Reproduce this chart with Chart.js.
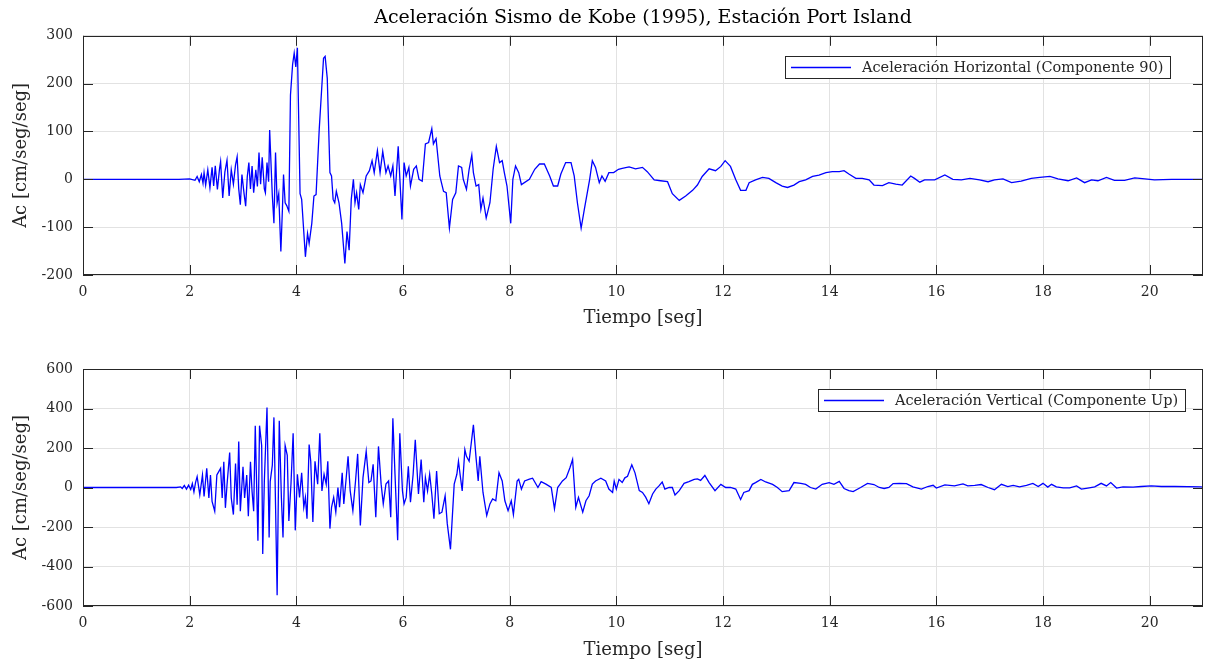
<!DOCTYPE html>
<html>
<head>
<meta charset="utf-8">
<script src="https://cdn.jsdelivr.net/npm/chart.js@4.4.1/dist/chart.umd.min.js"></script>
<style>
html, body { margin: 0; padding: 0; background: #fff; }
canvas { position: absolute; left: 0; }
#c1 { top: 0; }
#c2 { top: 332px; }
</style>
</head>
<body>
<canvas id="c1" width="1207" height="332"></canvas>
<canvas id="c2" width="1207" height="331"></canvas>
<script>
// tick labels
var xTicks = [0, 2, 4, 6, 8, 10, 12, 14, 16, 18, 20];
var yTicksH = [-200, -100, 0, 100, 200, 300];
var yTicksV = [-600, -400, -200, 0, 200, 400, 600];

// horizontal component (Componente 90), time [s] / accel [cm/s2]
var tH = [
  0, 1, 1.8, 2.0, 2.1, 2.14, 2.18, 2.22, 2.25, 2.27,
  2.30, 2.34, 2.38, 2.42, 2.45, 2.48, 2.52, 2.56, 2.58, 2.62,
  2.66, 2.70, 2.74, 2.78, 2.82, 2.86, 2.89, 2.92, 2.95, 2.98,
  3.02, 3.05, 3.08, 3.11, 3.14, 3.17, 3.20, 3.24, 3.27, 3.30,
  3.33, 3.36, 3.40, 3.42, 3.45, 3.48, 3.50, 3.53, 3.55, 3.58,
  3.61, 3.64, 3.67, 3.71, 3.74, 3.76, 3.79, 3.82, 3.86, 3.89,
  3.93, 3.96, 3.99, 4.02, 4.07, 4.10, 4.17, 4.21, 4.24, 4.29,
  4.33, 4.37, 4.43, 4.51, 4.54, 4.58, 4.63, 4.66, 4.69, 4.72,
  4.75, 4.80, 4.85, 4.91, 4.95, 4.99, 5.03, 5.07, 5.10, 5.13,
  5.17, 5.20, 5.25, 5.31, 5.37, 5.42, 5.46, 5.52, 5.57, 5.62,
  5.68, 5.72, 5.77, 5.81, 5.85, 5.91, 5.98, 6.02, 6.06, 6.11,
  6.14, 6.20, 6.25, 6.30, 6.36, 6.42, 6.48, 6.54, 6.57, 6.62,
  6.69, 6.76, 6.81, 6.87, 6.93, 6.99, 7.04, 7.10, 7.13, 7.19,
  7.24, 7.29, 7.32, 7.37, 7.42, 7.46, 7.50, 7.56, 7.63, 7.69,
  7.75, 7.81, 7.86, 7.90, 7.95, 8.02, 8.06, 8.11, 8.17, 8.22,
  8.37, 8.47, 8.56, 8.65, 8.75, 8.82, 8.90, 8.96, 9.05, 9.15,
  9.21, 9.27, 9.34, 9.40, 9.50, 9.55, 9.61, 9.68, 9.73, 9.79,
  9.86, 9.95, 10.04, 10.11, 10.24, 10.36, 10.49, 10.58, 10.71, 10.83,
  10.96, 11.05, 11.18, 11.30, 11.43, 11.52, 11.61, 11.74, 11.86, 11.96,
  12.04, 12.14, 12.24, 12.33, 12.43, 12.49, 12.61, 12.74, 12.86, 12.99,
  13.11, 13.21, 13.33, 13.43, 13.55, 13.68, 13.80, 13.93, 14.05, 14.18,
  14.27, 14.36, 14.49, 14.61, 14.74, 14.83, 14.99, 15.11, 15.24, 15.36,
  15.52, 15.59, 15.69, 15.78, 15.97, 16.16, 16.31, 16.47, 16.63, 16.81,
  16.97, 17.09, 17.25, 17.41, 17.59, 17.78, 17.94, 18.13, 18.28, 18.47,
  18.63, 18.78, 18.91, 19.03, 19.19, 19.34, 19.53, 19.72, 19.91, 20.09,
  20.41, 21
];
var aH = [
  0, 0, 0, 1, -2, 6, -5, 10, -8, 14,
  -12, 20, -18, 25, -14, 28, -21, 22, 37, -39,
  15, 40, -35, 20, -10, 30, 47, -20, -53, 10,
  -30, -56, 5, 35, -20, 28, -28, 20, -15, 56,
  -10, 46, -20, -28, 35, -5, 103, 20, -35, -92,
  56, -49, -30, -151, -60, 10, -49, -55, -67, 176,
  240, 264, 235, 275, -30, -42, -162, -113, -134, -92,
  -35, -32, 106, 253, 257, 211, 14, 7, -42, -49,
  -25, -49, -92, -176, -109, -148, -42, 0, -49, -28,
  -63, -11, -28, 7, 18, 39, 14, 60, 14, 58,
  14, 28, 7, 28, -35, 69, -84, 35, 7, 25,
  -14, 21, 28, 0, -4, 74, 77, 106, 74, 85,
  7, -25, -28, -102, -42, -28, 28, 25, 0, -21,
  21, 51, 14, -14, -11, -63, -39, -81, -49, 21,
  69, 35, 39, 14, -14, -92, 0, 28, 14, -11,
  0, 21, 32, 32, 7, -14, -14, 11, 35, 35,
  7, -49, -102, -63, 0, 39, 25, -7, 7, -4,
  14, 14, 21, 23, 26, 22, 25, 16, -1, -3,
  -5, -30, -44, -35, -23, -12, 6, 22, 18, 27,
  39, 27, -1, -23, -23, -7, -1, 4, 2, -7,
  -14, -17, -12, -5, -1, 6, 9, 14, 16, 16,
  18, 11, 2, 2, -1, -12, -13, -7, -10, -12,
  7, 2, -6, -1, -1, 9, 0, -1, 2, -1,
  -5, -1, 1, -7, -4, 2, 4, 6, 1, -3,
  3, -7, -1, -3, 4, -2, -2, 3, 1, -1,
  0, 0
];

// vertical component (Componente Up)
var tV = [
  0, 1, 1.75, 1.83, 1.86, 1.90, 1.94, 1.98, 2.02, 2.05,
  2.08, 2.11, 2.14, 2.19, 2.24, 2.27, 2.32, 2.36, 2.39, 2.42,
  2.47, 2.51, 2.58, 2.61, 2.64, 2.67, 2.70, 2.75, 2.78, 2.82,
  2.86, 2.89, 2.92, 2.95, 3.00, 3.03, 3.07, 3.10, 3.14, 3.17,
  3.20, 3.23, 3.28, 3.31, 3.35, 3.37, 3.40, 3.45, 3.49, 3.51,
  3.55, 3.58, 3.61, 3.64, 3.68, 3.72, 3.75, 3.79, 3.83, 3.86,
  3.90, 3.94, 3.98, 4.02, 4.06, 4.10, 4.14, 4.17, 4.20, 4.24,
  4.27, 4.31, 4.35, 4.40, 4.44, 4.48, 4.52, 4.56, 4.59, 4.63,
  4.66, 4.70, 4.74, 4.78, 4.81, 4.86, 4.89, 4.93, 4.97, 5.01,
  5.06, 5.11, 5.15, 5.20, 5.25, 5.31, 5.36, 5.40, 5.44, 5.49,
  5.54, 5.59, 5.63, 5.68, 5.73, 5.77, 5.81, 5.85, 5.90, 5.94,
  5.99, 6.02, 6.06, 6.10, 6.14, 6.19, 6.23, 6.29, 6.34, 6.39,
  6.42, 6.46, 6.50, 6.54, 6.58, 6.63, 6.68, 6.73, 6.79, 6.83,
  6.89, 6.96, 7.01, 7.04, 7.07, 7.11, 7.16, 7.19, 7.24, 7.32,
  7.37, 7.41, 7.44, 7.50, 7.57, 7.63, 7.68, 7.74, 7.80, 7.86,
  7.91, 7.97, 8.03, 8.07, 8.14, 8.17, 8.22, 8.28, 8.37, 8.43,
  8.53, 8.59, 8.68, 8.78, 8.84, 8.90, 8.99, 9.06, 9.13, 9.18,
  9.24, 9.29, 9.37, 9.43, 9.49, 9.55, 9.61, 9.71, 9.80, 9.86,
  9.93, 9.96, 10.00, 10.05, 10.11, 10.16, 10.21, 10.29, 10.35, 10.43,
  10.49, 10.55, 10.61, 10.68, 10.74, 10.80, 10.86, 10.91, 10.99, 11.05,
  11.10, 11.18, 11.27, 11.36, 11.46, 11.52, 11.58, 11.66, 11.74, 11.85,
  11.96, 12.05, 12.14, 12.24, 12.33, 12.39, 12.49, 12.55, 12.61, 12.71,
  12.80, 12.93, 13.02, 13.11, 13.24, 13.33, 13.46, 13.55, 13.64, 13.74,
  13.86, 13.99, 14.08, 14.18, 14.27, 14.36, 14.44, 14.58, 14.71, 14.83,
  14.93, 15.02, 15.11, 15.19, 15.31, 15.44, 15.56, 15.72, 15.84, 15.94,
  16.00, 16.16, 16.34, 16.50, 16.59, 16.72, 16.84, 16.97, 17.09, 17.22,
  17.34, 17.44, 17.56, 17.69, 17.81, 17.91, 18.00, 18.09, 18.16, 18.25,
  18.38, 18.50, 18.63, 18.72, 18.84, 18.97, 19.09, 19.19, 19.27, 19.38,
  19.50, 19.69, 19.84, 20.03, 20.22, 20.47, 20.96, 21
];
var aV = [
  0, 0, 0, 3, -5, 10, -8, 12, -10, 20,
  -22, 25, 55, -37, 63, -45, 97, -53, 63, -70,
  -120, 63, 97, -53, 130, -103, 13, 177, -53, -137,
  122, -87, 233, -120, 105, -53, 63, -145, 130, -20,
  -120, 313, -270, 313, 213, -337, 30, 405, -253, 30,
  113, 355, -87, -545, 338, -53, -253, 213, 163, -170,
  20, 275, -217, 67, -50, 75, -100, -50, -158, 217,
  133, -175, 133, 17, 275, -17, 67, 17, 133, -208,
  -100, -50, -125, 0, -100, 75, -83, 33, 158, -17,
  -117, 33, 170, -192, 50, 183, 25, 33, 117, -150,
  208, 17, -83, 17, 33, -150, 350, 67, -267, 275,
  -17, -83, -50, 108, -75, 67, 242, -33, 142, -75,
  50, -17, 67, -33, -158, 83, -133, -125, -42, -183,
  -313, 17, 67, 133, 67, -17, 192, 158, 133, 317,
  150, 33, 158, -25, -142, -83, -58, -67, 75, 33,
  -67, -117, -67, -137, 33, 42, -8, 33, 42, 47,
  0, 30, 17, 0, -108, 0, 33, 50, 100, 142,
  -100, -50, -125, -67, -42, 17, 33, 47, 33, -8,
  -25, 33, -8, 41, 25, 49, 57, 115, 74, -16,
  -25, -49, -82, -33, -8, 8, 28, -8, 0, 0,
  -38, -16, 21, 30, 41, 44, 36, 61, 25, -16,
  16, 0, 0, -8, -61, -25, -16, 16, 25, 41,
  28, 16, 0, -21, -16, 25, 21, 16, 0, -8,
  16, 25, 16, 31, -5, -16, -21, 0, 21, 15,
  0, -5, 0, 20, 21, 20, 3, -8, 5, 11,
  -3, 13, 8, 18, 8, 11, 15, 0, -11, 16,
  5, 11, 3, 11, 21, 5, 21, 2, 16, 3,
  -2, -2, 8, -8, -3, 3, 21, 8, 25, -3,
  3, 2, 5, 8, 5, 5, 3, 2
];

var FONT = '"DejaVu Serif", "Liberation Serif", serif';
var INK = '#262626';

function toPoints(ts, vs) {
  var pts = [];
  for (var i = 0; i < ts.length; i++) {
    pts.push({x: ts[i], y: vs[i]});
  }
  return pts;
}

// box + inward ticks, matlab style
var framePlugin = {
  id: 'frame',
  afterDatasetsDraw: function(chart) {
    var a = chart.chartArea, ctx = chart.ctx;
    var xs = chart.scales.x, ys = chart.scales.y;
    ctx.save();
    ctx.strokeStyle = INK;
    ctx.lineWidth = 1;
    ctx.beginPath();
    xs.ticks.forEach(function(t) {
      var px = Math.round(xs.getPixelForValue(t.value)) + 0.5;
      ctx.moveTo(px, a.bottom); ctx.lineTo(px, a.bottom - 10);
      ctx.moveTo(px, a.top); ctx.lineTo(px, a.top + 10);
    });
    ys.ticks.forEach(function(t) {
      var py = Math.round(ys.getPixelForValue(t.value)) + 0.5;
      ctx.moveTo(a.left, py); ctx.lineTo(a.left + 10, py);
      ctx.moveTo(a.right, py); ctx.lineTo(a.right - 10, py);
    });
    ctx.stroke();
    ctx.strokeRect(Math.round(a.left) + 0.5, Math.round(a.top) + 0.5,
      Math.round(a.right - a.left) - 1, Math.round(a.bottom - a.top) - 1);
    ctx.restore();
  }
};

// legend box in the upper right corner
var legendPlugin = {
  id: 'legendBox',
  afterDraw: function(chart) {
    var a = chart.chartArea, ctx = chart.ctx;
    var ds = chart.data.datasets[0];
    var off = chart.options.plugins.legendBox.right;
    ctx.save();
    ctx.font = '14.5px ' + FONT;
    var tw = ctx.measureText(ds.label).width;
    var h = 22, w = 6 + 60 + 12 + tw + 6;
    var right = Math.round(a.right - off), top = Math.round(a.top + 20);
    var left = Math.round(right - w);
    ctx.fillStyle = '#fff';
    ctx.fillRect(left, top, right - left, h);
    ctx.strokeStyle = INK;
    ctx.lineWidth = 1;
    ctx.strokeRect(left + 0.5, top + 0.5, right - left, h);
    ctx.strokeStyle = ds.borderColor;
    ctx.lineWidth = 1.3;
    ctx.beginPath();
    ctx.moveTo(left + 6, top + h / 2 + 0.5);
    ctx.lineTo(left + 66, top + h / 2 + 0.5);
    ctx.stroke();
    ctx.fillStyle = INK;
    ctx.textBaseline = 'middle';
    ctx.fillText(ds.label, left + 77, top + h / 2 + 1);
    ctx.restore();
  }
};

function makeChart(id, label, pts, yMin, yMax, yTicks, title, padTop, xTitlePad, legRight) {
  return new Chart(document.getElementById(id), {
    type: 'line',
    data: {
      datasets: [{
        label: label,
        data: pts,
        borderColor: '#0000ff',
        borderWidth: 1.3,
        pointRadius: 0,
        tension: 0,
        fill: false
      }]
    },
    options: {
      responsive: false,
      animation: false,
      devicePixelRatio: 1,
      layout: { padding: { top: padTop, right: 4, left: 0, bottom: 0 } },
      plugins: {
        legend: { display: false },
        tooltip: { enabled: false },
        legendBox: { right: legRight },
        title: {
          display: !!title,
          text: title,
          fullSize: false,
          color: '#000',
          font: { family: FONT, size: 19, weight: 'normal' },
          padding: { top: 7, bottom: 6 }
        }
      },
      scales: {
        x: {
          type: 'linear',
          min: 0,
          max: 21,
          afterBuildTicks: function(s) {
            s.ticks = xTicks.map(function(v) { return {value: v}; });
          },
          afterFit: function(s) { s.height = 57; },
          grid: { color: '#e2e2e2', drawTicks: false },
          border: { display: false },
          ticks: { color: INK, padding: 9, maxRotation: 0, font: { family: FONT, size: 14 } },
          title: {
            display: true,
            text: 'Tiempo [seg]',
            color: INK,
            font: { family: FONT, size: 18 },
            padding: { top: 0, bottom: xTitlePad }
          }
        },
        y: {
          min: yMin,
          max: yMax,
          afterBuildTicks: function(s) {
            s.ticks = yTicks.map(function(v) { return {value: v}; });
          },
          afterFit: function(s) { s.width = 83; },
          grid: { color: '#e2e2e2', drawTicks: false },
          border: { display: false },
          ticks: { color: INK, padding: 10, font: { family: FONT, size: 14 } },
          title: {
            display: true,
            text: 'Ac [cm/seg/seg]',
            color: INK,
            font: { family: FONT, size: 18 },
            padding: { top: 11, bottom: 0 }
          }
        }
      }
    },
    plugins: [framePlugin, legendPlugin]
  });
}

makeChart('c1', 'Aceleración Horizontal (Componente 90)', toPoints(tH, aH),
  -200, 300, yTicksH, 'Aceleración Sismo de Kobe (1995), Estación Port Island', 0, 3, 33);
makeChart('c2', 'Aceleración Vertical (Componente Up)', toPoints(tV, aV),
  -600, 600, yTicksV, '', 37, 2, 18);
</script>
</body>
</html>
